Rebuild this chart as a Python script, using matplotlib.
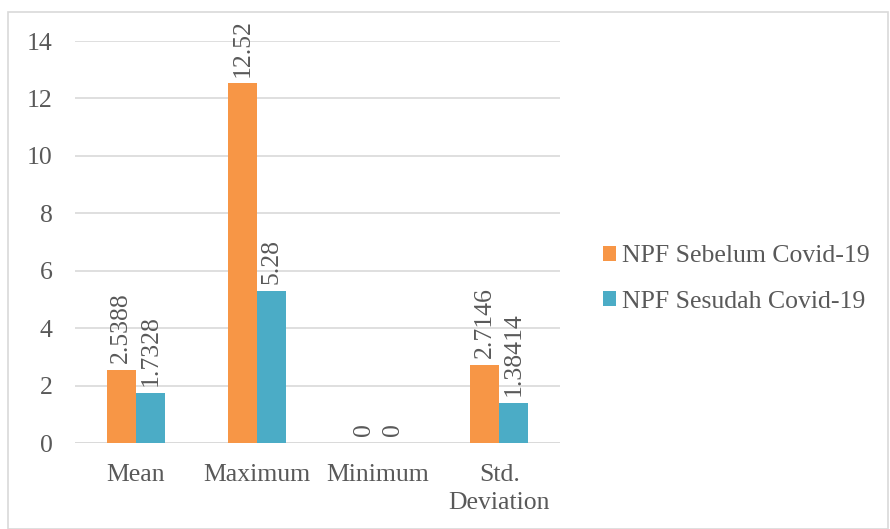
import numpy as np
import matplotlib
matplotlib.use("Agg")
import matplotlib.pyplot as plt
from matplotlib.patches import Rectangle

categories = ["Mean", "Maximum", "Minimum", "Std.\nDeviation"]
sebelum = [2.5388, 12.52, 0, 2.7146]
sesudah = [1.7328, 5.28, 0, 1.38414]
sebelum_labels = ["2.5388", "12.52", "0", "2.7146"]
sesudah_labels = ["1.7328", "5.28", "0", "1.38414"]
series_names = ["NPF Sebelum Covid-19", "NPF Sesudah Covid-19"]

ORANGE = "#F79646"
TEAL = "#4BACC6"
TEXT = "#595959"
GRID = "#D9D9D9"
FS = 18.5

plt.rcParams["font.family"] = ["Liberation Serif", "DejaVu Serif"]

fig = plt.figure(figsize=(8.9, 5.29), dpi=100)
# chart border
fig.patches.append(Rectangle((8 / 890, 0), 880 / 890, 517 / 529,
                             transform=fig.transFigure, fill=False,
                             edgecolor=GRID, linewidth=1.2))

ax = fig.add_axes([75 / 890, 86 / 529, 485 / 890, 402 / 529])

x = np.arange(len(categories))
w = 0.24
b1 = ax.bar(x - w / 2, sebelum, w, color=ORANGE, label=series_names[0], zorder=3)
b2 = ax.bar(x + w / 2, sesudah, w, color=TEAL, label=series_names[1], zorder=3)

for bars, labels in ((b1, sebelum_labels), (b2, sesudah_labels)):
    for rect, lab in zip(bars, labels):
        ax.annotate(lab, (rect.get_x() + rect.get_width() / 2, rect.get_height()),
                    xytext=(0, 5), textcoords="offset points",
                    rotation=90, ha="center", va="bottom",
                    fontsize=FS, color=TEXT)

ax.set_xlim(-0.5, 3.5)
ax.set_ylim(0, 14)
ax.set_yticks(range(0, 15, 2))
ax.set_xticks(x)
ax.set_xticklabels(categories, fontsize=FS, color=TEXT, linespacing=1.35)
ax.tick_params(axis="y", labelsize=FS, labelcolor=TEXT, length=0, pad=16)
ax.tick_params(axis="x", length=0, pad=15)
ax.grid(axis="y", color=GRID, linewidth=1.2, zorder=0)
for s in ax.spines.values():
    s.set_visible(False)
ax.axhline(0, color=GRID, linewidth=1.2, zorder=2)

fig.legend(handles=[b1, b2], labels=series_names,
           loc="center left", bbox_to_anchor=(580 / 890, 250 / 529),
           frameon=False, fontsize=FS, labelcolor=TEXT,
           handlelength=0.5, handleheight=0.5, handletextpad=0.25,
           labelspacing=0.9)

fig.savefig("out.png", dpi=100)
